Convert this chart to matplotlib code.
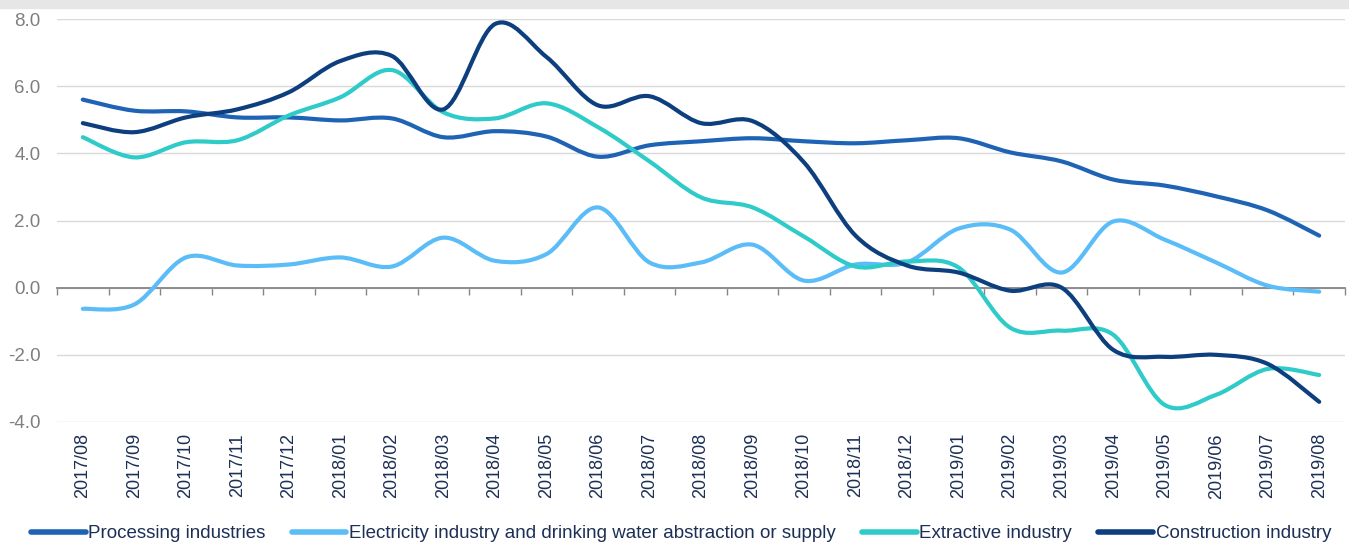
import matplotlib.pyplot as plt
import numpy as np
from matplotlib.path import Path
from matplotlib.patches import PathPatch, Rectangle
from matplotlib.lines import Line2D

plt.rcParams['font.family'] = ['Liberation Sans', 'DejaVu Sans']

months = ["2017/08", "2017/09", "2017/10", "2017/11", "2017/12",
          "2018/01", "2018/02", "2018/03", "2018/04", "2018/05", "2018/06",
          "2018/07", "2018/08", "2018/09", "2018/10", "2018/11", "2018/12",
          "2019/01", "2019/02", "2019/03", "2019/04", "2019/05", "2019/06",
          "2019/07", "2019/08"]

processing = [5.60, 5.27, 5.25, 5.07, 5.07, 4.98, 5.04, 4.48, 4.66, 4.50, 3.90,
              4.24, 4.36, 4.45, 4.36, 4.30, 4.39, 4.45, 4.03, 3.76, 3.22, 3.04,
              2.72, 2.30, 1.55]
electricity = [-0.63, -0.50, 0.90, 0.66, 0.69, 0.90, 0.63, 1.49, 0.80, 1.00, 2.39,
               0.75, 0.75, 1.28, 0.21, 0.69, 0.75, 1.76, 1.73, 0.45, 1.97, 1.43,
               0.75, 0.06, -0.12]
extractive = [4.48, 3.88, 4.33, 4.39, 5.13, 5.67, 6.48, 5.22, 5.04, 5.49, 4.78,
              3.76, 2.69, 2.39, 1.52, 0.63, 0.78, 0.60, -1.19, -1.28, -1.40, -3.49,
              -3.19, -2.42, -2.60]
construction = [4.90, 4.63, 5.07, 5.31, 5.82, 6.75, 6.90, 5.31, 7.85, 6.87, 5.43,
                5.70, 4.90, 4.96, 3.73, 1.55, 0.66, 0.45, -0.09, 0.00, -1.85, -2.06,
                -2.00, -2.27, -3.40]

series = [
    ("Processing industries", processing, "#1f63b5"),
    ("Electricity industry and drinking water abstraction or supply", electricity, "#5bbdf8"),
    ("Extractive industry", extractive, "#2fcbc9"),
    ("Construction industry", construction, "#0d3f7e"),
]


def smooth_path(x, y):
    # Catmull-Rom style bezier segments through every point
    x = np.asarray(x, float)
    y = np.asarray(y, float)
    pts = np.column_stack([x, y])
    n = len(pts)
    verts = [pts[0]]
    codes = [Path.MOVETO]
    for i in range(n - 1):
        p0 = pts[i - 1] if i > 0 else pts[i]
        p1 = pts[i]
        p2 = pts[i + 1]
        p3 = pts[i + 2] if i + 2 < n else pts[i + 1]
        c1 = p1 + (p2 - p0) / 6.0
        c2 = p2 - (p3 - p1) / 6.0
        verts += [c1, c2, p2]
        codes += [Path.CURVE4] * 3
    return Path(verts, codes)


fig = plt.figure(figsize=(13.49, 5.45), dpi=100)
fig.patches.append(Rectangle((0, 0.986), 1, 0.014, transform=fig.transFigure,
                             color="#e6e6e6", zorder=0))
ax = fig.add_axes([0.0423, 0.2257, 0.9547, 0.7394])

x = np.arange(len(months))
for name, vals, color in series:
    ax.add_patch(PathPatch(smooth_path(x, vals), fill=False, edgecolor=color,
                           linewidth=3, capstyle="round", joinstyle="round", zorder=3))

ax.set_xlim(-0.5, len(months) - 0.5)
ax.set_ylim(-4, 8)
ax.set_yticks(np.arange(-4, 8.1, 2))
ax.set_yticklabels([f"{v:.1f}" for v in np.arange(-4, 8.1, 2)])
ax.yaxis.grid(True, color="#d9d9d9", linewidth=1)
ax.set_axisbelow(True)
ax.tick_params(axis="y", length=0, labelsize=13.5, labelcolor="#7f7f7f", pad=12)

for s in ["top", "left", "right"]:
    ax.spines[s].set_visible(False)
ax.spines["bottom"].set_position(("data", 0))
ax.spines["bottom"].set_color("#868686")
ax.spines["bottom"].set_linewidth(1.3)
ax.spines["bottom"].set_zorder(2)
ax.set_xticks(np.arange(-0.5, len(months), 1))
ax.set_xticklabels([])
ax.tick_params(axis="x", length=5, width=1, color="#868686")

# category labels sit below the plot area
secax = ax.secondary_xaxis("bottom")
secax.set_xticks(x)
secax.set_xticklabels(months, rotation=90)
secax.tick_params(length=0, labelsize=13, labelcolor="#1c2f55", pad=8)
secax.spines["bottom"].set_visible(False)

handles = [Line2D([], [], color=c, linewidth=4, solid_capstyle="round") for _, _, c in series]
fig.legend(handles, [s[0] for s in series], loc="lower center", ncol=4,
           bbox_to_anchor=(0.505, -0.026), frameon=False, fontsize=13.5,
           handlelength=2.9, handletextpad=0.15, columnspacing=1.4,
           labelcolor="#1c2f55")

fig.savefig("out.png", dpi=100)
